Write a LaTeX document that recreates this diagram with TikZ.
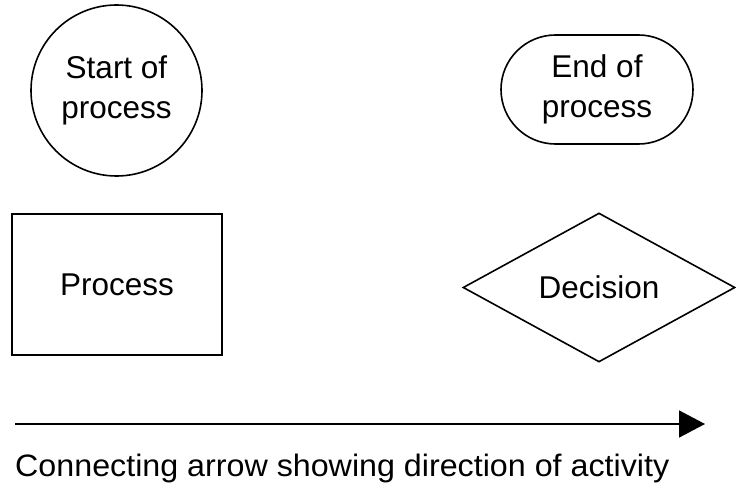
\documentclass[tikz,border=0pt]{standalone}
\usepackage{fontspec}
\setmainfont{Liberation Sans}
\usetikzlibrary{shapes.geometric,shapes.misc,arrows.meta}
\begin{document}
\begin{tikzpicture}[x=1pt,y=-1pt,
  shape line/.style={draw=black,line width=1.6pt},
  label text/.style={font=\fontsize{31.5}{40}\selectfont,align=center,inner sep=0pt},
]
\useasboundingbox (0,0) rectangle (736,484);
% flowchart symbols
\node[shape line,circle,minimum size=171pt,label text] (start) at (116.5,90.5) {Start of\\process};
\node[shape line,rounded rectangle,minimum width=192pt,minimum height=109pt,label text] (end) at (597,89.5) {End of\\process};
\node[shape line,rectangle,minimum width=210pt,minimum height=141pt,label text] (proc) at (117,284.5) {Process};
\node[shape line,diamond,minimum width=272pt,minimum height=149pt,label text] (dec) at (599,287.5) {Decision};
% connecting arrow and its caption
\coordinate (a0) at (15,424);
\coordinate (a1) at (705,424);
\draw[line width=1.6pt,-{Triangle[length=26pt,width=27pt]}] (a0) -- (a1);
\node[anchor=base west,inner sep=0pt,font=\fontsize{31}{37}\selectfont] (cap) at (15,476) {\scalebox{1.04}[1]{Connecting arrow showing direction of activity}};
\end{tikzpicture}
\end{document}
